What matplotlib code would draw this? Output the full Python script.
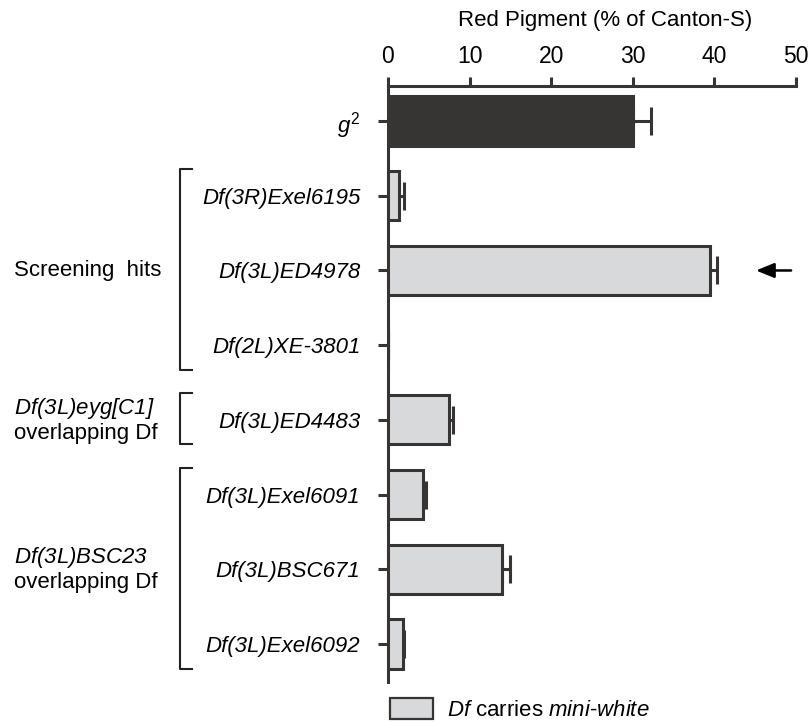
import numpy as np
import matplotlib
matplotlib.use('Agg')
import matplotlib.pyplot as plt
import matplotlib.transforms as mtransforms

plt.rcParams['font.family'] = ['Liberation Sans', 'DejaVu Sans']
plt.rcParams['mathtext.fontset'] = 'custom'
plt.rcParams['mathtext.rm'] = 'Liberation Sans:italic'
plt.rcParams['mathtext.it'] = 'Liberation Sans:italic'
plt.rcParams['mathtext.sf'] = 'Liberation Sans'

# Data
strains = [r'$g^{\mathsf{2}}$', 'Df(3R)Exel6195', 'Df(3L)ED4978', 'Df(2L)XE-3801',
           'Df(3L)ED4483', 'Df(3L)Exel6091', 'Df(3L)BSC671', 'Df(3L)Exel6092']
pigment = [30.0, 1.4, 39.4, 0.0, 7.5, 4.25, 14.0, 1.8]
pigment_err = [2.2, 0.5, 0.9, 0.0, 0.5, 0.35, 0.9, 0.1]
mini_white = [False, True, True, True, True, True, True, True]

groups = ['Screening  hits',
          r'$Df(3L)eyg[C1]$' + '\noverlapping Df',
          r'$Df(3L)BSC23$' + '\noverlapping Df']
group_rows = [(1, 3), (4, 4), (5, 7)]

dark = '#363534'
light = '#d8d9db'
fs = 16

fig = plt.figure(figsize=(8.12, 7.22), dpi=100)
ax = fig.add_axes([388/812, 1-682/722, 408/812, 596/722])

y = np.arange(len(strains))
colors = [light if m else dark for m in mini_white]
bars = ax.barh(y, pigment, height=0.66, color=colors, edgecolor=dark, linewidth=2.2, zorder=3)
ax.errorbar(pigment, y, xerr=[np.zeros(len(y)), pigment_err], fmt='none',
            ecolor=dark, elinewidth=2.2, capsize=10, capthick=2.2, zorder=2)

ax.set_xlim(0, 50)
ax.set_ylim(7.51, -0.47)
ax.set_xticks([0, 10, 20, 30, 40, 50])
ax.xaxis.tick_top()
ax.tick_params(axis='x', length=6.5, width=2.2, pad=6.5, labelsize=16.5, color=dark)
ax.tick_params(axis='y', length=7, width=2.2, pad=13, labelsize=fs, color=dark)
ax.set_yticks(y)
ax.set_yticklabels(strains, fontstyle='italic')
ax.text(0.531, 1.0 + 66/596, 'Red Pigment (% of Canton-S)', transform=ax.transAxes,
        ha='center', va='center', fontsize=fs)

for s in ['right', 'bottom']:
    ax.spines[s].set_visible(False)
for s in ['left', 'top']:
    ax.spines[s].set_linewidth(2.2)
    ax.spines[s].set_color(dark)

# brackets and group labels
trans = mtransforms.blended_transform_factory(ax.transAxes, ax.transData)
x0, x1 = (180-388)/408, (192-388)/408
for name, (a, b) in zip(groups, group_rows):
    ax.plot([x1, x0, x0, x1], [a-0.36, a-0.36, b+0.33, b+0.33], transform=trans,
            color='#222222', lw=1.5, clip_on=False)
    ax.text((14-388)/408, (a+b)/2, name, transform=trans, ha='left', va='center',
            fontsize=fs, linespacing=1.1)

# arrow pointing at the hit
ax.annotate('', xy=(45.1, 2), xytext=(49.4, 2),
            arrowprops=dict(arrowstyle='-|>,head_length=1.1,head_width=0.45',
                            color='black', lw=1.8, shrinkA=0, shrinkB=0),
            annotation_clip=False)

fig.legend([bars[1]], [r'$Df$ carries $mini$-$white$'],
           loc='lower left', bbox_to_anchor=(390/812, 1/722), frameon=False,
           fontsize=fs, handlelength=1.95, handleheight=1.05, handletextpad=0.6,
           borderpad=0, borderaxespad=0)
for p in fig.legends[0].get_patches():
    p.set_linewidth(1.6)

fig.savefig('out.png', dpi=100)
